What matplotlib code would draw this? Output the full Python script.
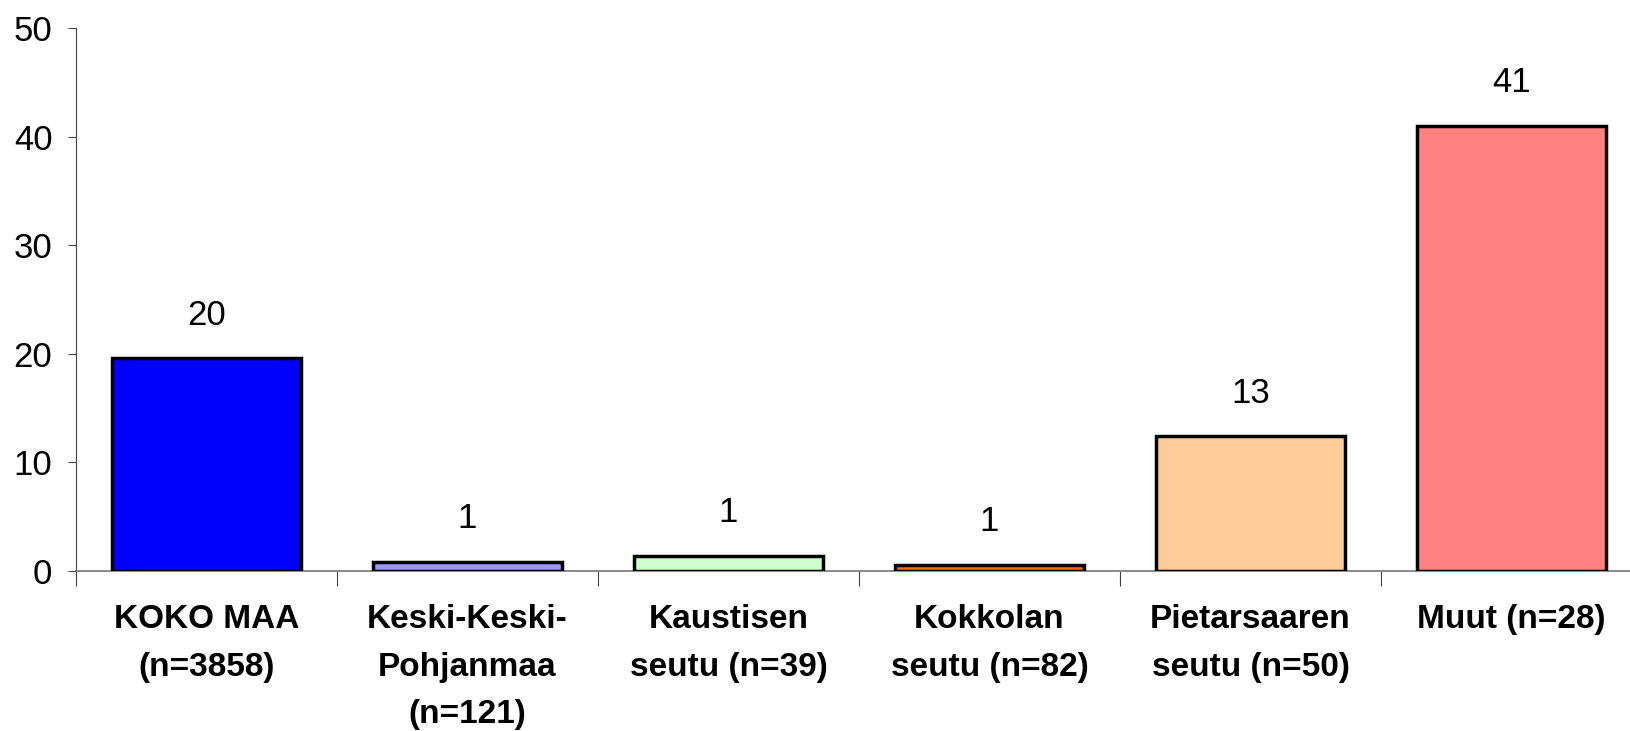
import matplotlib.pyplot as plt
import matplotlib.ticker as mticker

plt.rcParams['font.family'] = ['Liberation Sans', 'DejaVu Sans']

categories = ['KOKO MAA\n(n=3858)', 'Keski-Keski-\nPohjanmaa\n(n=121)', 'Kaustisen\nseutu (n=39)',
              'Kokkolan\nseutu (n=82)', 'Pietarsaaren\nseutu (n=50)', 'Muut (n=28)']
values = [19.6, 0.83, 1.38, 0.55, 12.4, 41.0]
value_labels = ['20', '1', '1', '1', '13', '41']
colors = ['#0000FF', '#9999FF', '#CCFFCC', '#FF6600', '#FFCC99', '#FF8080']

fig = plt.figure(figsize=(16.31, 7.31), dpi=100)
ax = fig.add_axes((76 / 1631, 160 / 731, 1566 / 1631, 543 / 731))

x = list(range(len(categories)))
bars = ax.bar(x, values, width=0.725, color=colors, edgecolor='black', linewidth=2.5, zorder=3)

for xi, v, lab in zip(x, values, value_labels):
    ax.annotate(lab, (xi, v), xytext=(0, 31), textcoords='offset points',
                ha='center', va='center', fontsize=25)

ax.set_xlim(-0.5, len(categories) - 0.5)
ax.set_ylim(0, 50)
ax.set_yticks([0, 10, 20, 30, 40, 50])
ax.tick_params(axis='y', labelsize=25, length=6, width=0.8, pad=11, color='#444444')

# boundaries get tick marks, centres get the labels
ax.xaxis.set_major_locator(mticker.FixedLocator([i - 0.5 for i in range(len(categories) + 1)]))
ax.xaxis.set_major_formatter(mticker.NullFormatter())
ax.xaxis.set_minor_locator(mticker.FixedLocator(x))
ax.xaxis.set_minor_formatter(mticker.FixedFormatter(categories))
ax.tick_params(axis='x', which='major', length=11, width=0.8, color='#444444')
ax.tick_params(axis='x', which='minor', length=0, pad=24)
for t in ax.xaxis.get_minorticklabels():
    t.set_fontsize(24)
    t.set_fontweight('bold')
    t.set_linespacing(1.68)
    t.set_verticalalignment('top')

for side in ['top', 'right']:
    ax.spines[side].set_visible(False)
ax.spines['left'].set_color('#444444')
ax.spines['bottom'].set_color('#777777')
ax.spines['left'].set_linewidth(0.8)
ax.spines['bottom'].set_linewidth(1.2)

fig.savefig('out.png', dpi=100)
